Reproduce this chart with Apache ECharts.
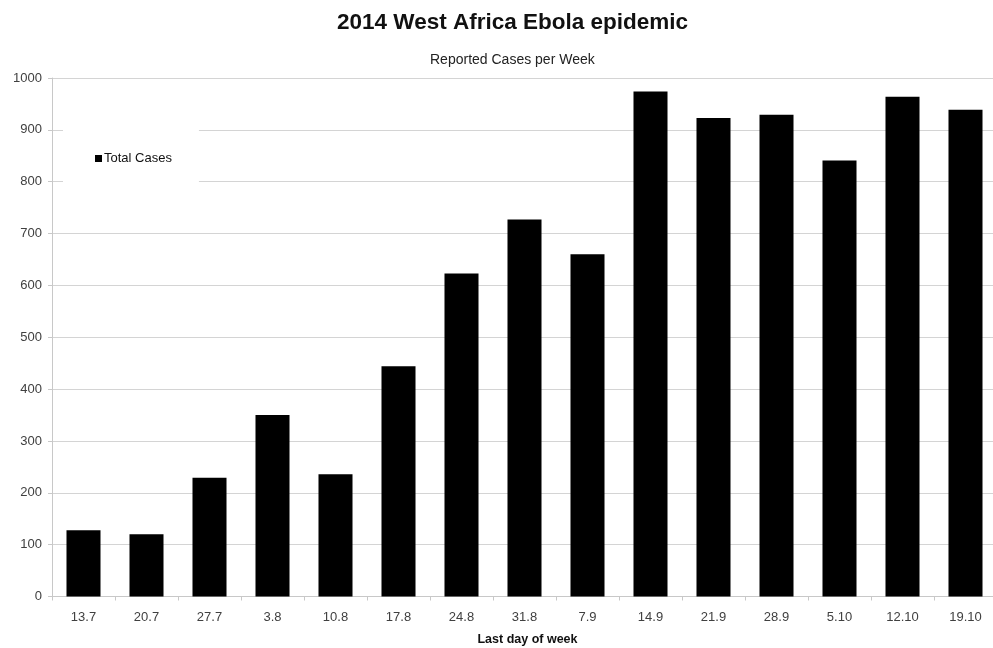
<!DOCTYPE html>
<html>
<head>
<meta charset="utf-8">
<script src="https://cdn.jsdelivr.net/npm/echarts@6/dist/echarts.min.js"></script>
<style>
  html, body { margin: 0; padding: 0; background: #fff; }
  #chart { width: 993px; height: 648px; }
</style>
</head>
<body>
<div id="chart"></div>
<script>
// Week-ending dates (day.month, 2014)
const weeks = ['13.7', '20.7', '27.7', '3.8', '10.8', '17.8', '24.8', '31.8', '7.9', '14.9', '21.9', '28.9', '5.10', '12.10', '19.10'];
// Reported cases per week
const totalCases = [128, 120, 229, 350, 236, 444, 623, 727, 660, 974, 923, 929, 841, 964, 939];
// Value-axis ticks
const yTicks = [0, 100, 200, 300, 400, 500, 600, 700, 800, 900, 1000];

const FONT = '"Liberation Sans", Arial, sans-serif';
const chart = echarts.init(document.getElementById('chart'), null, { renderer: 'canvas' });

chart.setOption({
  backgroundColor: '#ffffff',
  animation: false,
  title: [
    {
      text: '2014 West Africa Ebola epidemic',
      left: 332,
      top: 6,
      textStyle: { fontFamily: FONT, fontSize: 22.5, fontWeight: 'bold', color: '#111' }
    },
    {
      text: 'Reported Cases per Week',
      left: 425,
      top: 48,
      textStyle: { fontFamily: FONT, fontSize: 14, fontWeight: 'normal', color: '#222' }
    }
  ],
  legend: {
    data: ['Total Cases'],
    left: 63,
    top: 128,
    orient: 'vertical',
    backgroundColor: '#ffffff',
    padding: [24, 27, 24, 32],
    itemWidth: 7,
    itemHeight: 7,
    itemGap: 4,
    icon: 'rect',
    textStyle: { fontFamily: FONT, fontSize: 13, color: '#111', padding: [0, 0, 0, -3] }
  },
  grid: { left: 52, top: 78, width: 945, height: 518.5, containLabel: false, outerBoundsMode: 'none' },
  xAxis: {
    type: 'category',
    data: weeks,
    name: 'Last day of week',
    nameLocation: 'middle',
    nameGap: 37,
    nameTextStyle: { fontFamily: FONT, fontSize: 12.5, fontWeight: 'bold', color: '#111', padding: [0, 0, 0, 6] },
    axisLine: { lineStyle: { color: '#c8c8c8', width: 1 } },
    axisTick: { show: true, alignWithLabel: false, length: 4, lineStyle: { color: '#c8c8c8' } },
    axisLabel: { fontFamily: FONT, fontSize: 13, color: '#404040', margin: 14 }
  },
  yAxis: {
    type: 'value',
    min: yTicks[0],
    max: yTicks[yTicks.length - 1],
    interval: yTicks[1] - yTicks[0],
    axisLine: { show: true, lineStyle: { color: '#c8c8c8', width: 1 } },
    axisTick: { show: true, length: 4, lineStyle: { color: '#c8c8c8' } },
    axisLabel: { fontFamily: FONT, fontSize: 13, color: '#404040', margin: 10, formatter: (v) => String(v) },
    splitLine: { show: true, lineStyle: { color: '#d4d4d4', width: 1 } }
  },
  series: [
    {
      name: 'Total Cases',
      type: 'bar',
      data: totalCases,
      barWidth: '54%',
      itemStyle: { color: '#000000' }
    }
  ]
});
</script>
</body>
</html>
